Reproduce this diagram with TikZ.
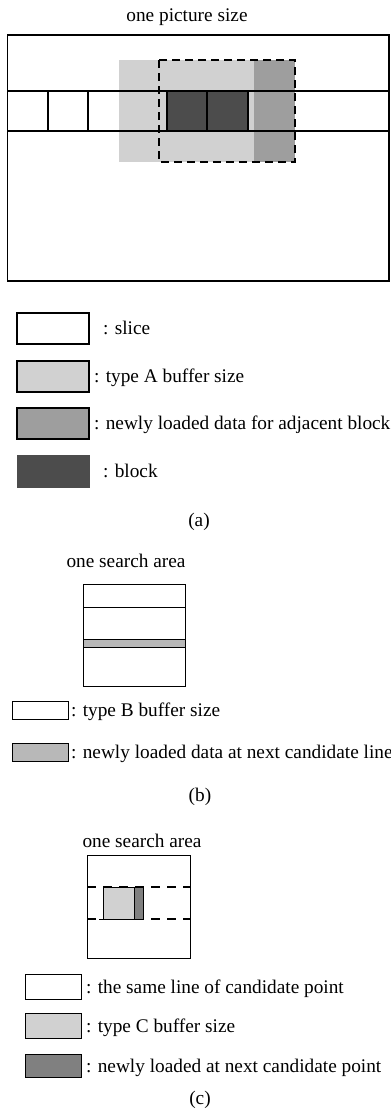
\documentclass[tikz,border=0pt]{standalone}
\usepackage{fontspec}
\setmainfont{Liberation Serif}
\definecolor{bufA}{gray}{0.82}
\definecolor{newA}{gray}{0.62}
\definecolor{blk}{gray}{0.30}
\definecolor{bandB}{gray}{0.72}
\definecolor{bufC}{gray}{0.82}
\definecolor{newC}{gray}{0.50}
\tikzset{
  every node/.style={inner sep=0pt, outer sep=0pt, font=\fontsize{19.3}{22}\selectfont},
  frame/.style={draw=black, line width=1.2pt},
  thin frame/.style={draw=black, line width=1pt},
  dashframe/.style={draw=black, line width=1.2pt, dash pattern=on 8pt off 5pt},
  dashline/.style={draw=black, line width=1.1pt, dash pattern=on 9pt off 7pt},
  caption/.style={anchor=base},
  legend/.style={anchor=base west},
}
\begin{document}
\begin{tikzpicture}[x=1pt, y=-1pt]
\useasboundingbox (0,0) rectangle (391,1117);

% ---------------- (a) one picture ----------------
\node[caption] (titleA) at (187,21) {one picture size};
% type A buffer area and newly loaded strip
\fill[bufA] (119,60) rectangle (295,162);
\fill[newA] (254,60) rectangle (295,162);
% slice row
\draw[frame] (7.5,91) -- (389,91);
\draw[frame] (7.5,131) -- (389,131);
\draw[frame] (48,91) -- (48,131);
\draw[frame] (88,91) -- (88,131);
% current block (two halves)
\filldraw[fill=blk, frame] (167,91) rectangle (248,131);
\draw[frame] (207,91) -- (207,131);
% buffer outline
\draw[dashframe] (159,60) rectangle (295,162);
% picture border
\draw[frame] (7.5,35) rectangle (389,281);

% legend (a)
\filldraw[fill=white, frame] (17,313) rectangle (89,344);
\node[legend] (lgA1) at (103,334.5) {: slice};
\filldraw[fill=bufA, frame] (17,361) rectangle (89,392);
\node[legend] (lgA2) at (94,382.5) {: type A buffer size};
\filldraw[fill=newA, frame] (17,408) rectangle (89,439);
\node[legend] (lgA3) at (94,429.5) {: newly loaded data for adjacent block};
\filldraw[fill=blk, draw=blk, line width=1pt] (17,455) rectangle (89,487);
\node[legend] (lgA4) at (103,477.5) {: block};
\node[caption] (capA) at (199,526) {(a)};

% ---------------- (b) one search area ----------------
\node[caption] (titleB) at (126,567) {one search area};
\fill[bandB] (83,639) rectangle (185,647);
\draw[thin frame] (83,607) -- (185,607);
\draw[thin frame] (83,639) -- (185,639);
\draw[thin frame] (83,647) -- (185,647);
\draw[thin frame] (83,584) rectangle (185,686);

% legend (b)
\filldraw[fill=white, thin frame] (12,701) rectangle (68,719);
\node[legend] (lgB1) at (71,716.5) {: type B buffer size};
\filldraw[fill=bandB, thin frame] (12,743) rectangle (68,761);
\node[legend] (lgB2) at (71,758.5) {: newly loaded data at next candidate line};
\node[caption] (capB) at (200,801) {(b)};

% ---------------- (c) one search area ----------------
\node[caption] (titleC) at (142,847) {one search area};
\draw[dashline] (87,887) -- (190,887);
\draw[dashline] (87,919) -- (190,919);
\filldraw[fill=bufC, thin frame] (103,887) rectangle (134,919);
\filldraw[fill=newC, thin frame] (134,887) rectangle (143,919);
\draw[thin frame] (99,919) -- (143,919);
\draw[thin frame] (87,855) rectangle (190,958);

% legend (c)
\filldraw[fill=white, thin frame] (25,974) rectangle (81,999);
\node[legend] (lgC1) at (86,993) {: the same line of candidate point};
\filldraw[fill=bufC, thin frame] (25,1013) rectangle (81,1038);
\node[legend] (lgC2) at (86,1032) {: type C buffer size};
\filldraw[fill=newC, thin frame] (25,1054) rectangle (81,1077);
\node[legend] (lgC3) at (86,1072) {: newly loaded at next candidate point};
\node[caption] (capC) at (200,1104) {(c)};
\end{tikzpicture}
\end{document}
